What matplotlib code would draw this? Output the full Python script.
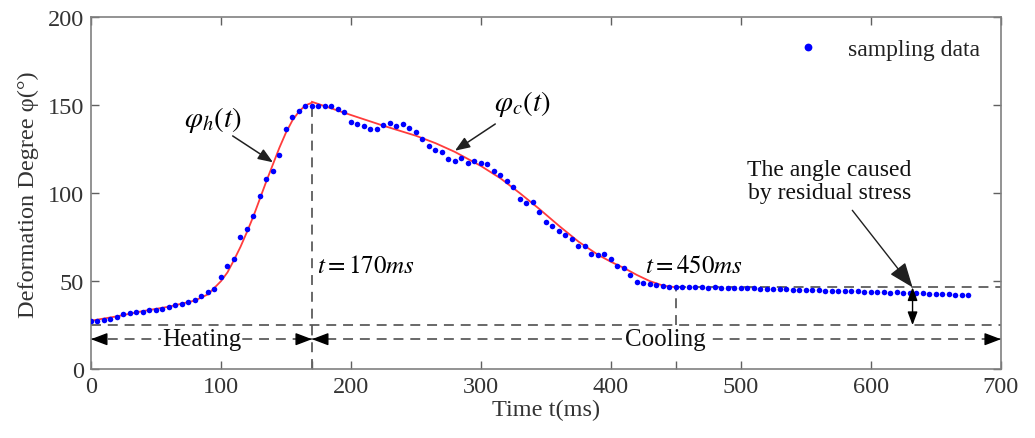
#!/usr/bin/env python3
"""Deformation degree vs time: sampled data with heating/cooling fit curves."""

import numpy as np
import matplotlib
matplotlib.use("Agg")
import matplotlib.pyplot as plt

plt.rcParams["font.family"] = ["Liberation Serif", "DejaVu Serif"]
plt.rcParams["mathtext.fontset"] = "stix"

# Sampled data, one point every 5 ms
t_samp = np.arange(0, 680, 5)
phi_samp = [
    27.5, 27.5, 27.9, 28.4, 29.8, 31.1, 31.9, 32.3, 32.3, 33.6,
    33.7, 34.1, 35.1, 36.4, 36.8, 37.9, 39.2, 41.7, 43.6, 45.5,
    52.2, 58.8, 62.6, 74.9, 79.6, 87.2, 98.6, 108.1, 112.8, 121.7,
    136.5, 143.2, 146.9, 149.8, 149.8, 149.9, 149.9, 149.9, 147.9, 146.0,
    140.8, 139.4, 138.1, 136.5, 136.5, 138.8, 139.9, 138.4, 139.4, 136.9,
    134.6, 130.8, 126.7, 124.6, 123.6, 119.5, 118.5, 119.9, 117.0, 118.5,
    117.0, 116.6, 112.8, 110.4, 106.8, 103.4, 96.7, 94.3, 94.8, 89.5,
    83.8, 81.5, 78.7, 76.2, 73.9, 69.8, 70.1, 65.4, 64.8, 65.4,
    62.6, 58.8, 57.5, 53.6, 49.7, 48.9, 48.4, 47.8, 47.2, 46.8,
    46.6, 46.5, 46.6, 46.4, 46.5, 46.3, 46.4, 46.2, 46.3, 46.0,
    46.1, 45.9, 45.9, 45.7, 45.8, 45.5, 45.6, 45.3, 45.2, 45.0,
    45.1, 44.8, 44.9, 44.6, 44.5, 44.6, 44.3, 44.2, 44.2, 44.0,
    43.9, 43.7, 43.8, 43.5, 43.6, 43.3, 43.4, 43.1, 43.0, 42.8,
    42.9, 42.6, 42.5, 42.3, 42.2, 42.0,
]

# Fitted heating curve phi_h(t)
t_heat = [0, 20, 40, 60, 80, 90, 100, 105, 110, 115, 120, 125, 130, 135,
          140, 145, 150, 155, 160, 165, 170]
phi_heat = [27.5, 30.0, 33.0, 35.5, 39.0, 42.5, 50.0, 55.0, 62.0, 69.5, 78.0,
            87.0, 97.0, 107.0, 116.5, 126.0, 134.5, 141.5, 146.5, 150.0, 151.5]

# Fitted cooling curve phi_c(t)
t_cool = [170, 180, 200, 225, 250, 265, 280, 295, 300, 315, 330, 345, 360,
          375, 390, 400, 410, 420, 430, 440, 450]
phi_cool = [152.0, 149.5, 144.5, 138.4, 132.7, 128.5, 123.5, 117.5, 115.5,
            108.5, 100.0, 91.0, 81.5, 72.5, 65.0, 61.0, 57.5, 53.5, 50.0,
            47.5, 46.5]

t_heat_end = 170
t_cool_end = 450
phi_final = 46.5
phi_base = 25.0
arrow_y = 17.0
t_residual = 632

fig = plt.figure(figsize=(10.35, 4.39), dpi=100)
ax = fig.add_axes([0.0879, 0.157, 0.8792, 0.801])

ax.plot(t_heat, phi_heat, color="#ff3c3c", lw=1.3, zorder=2)
ax.plot(t_cool, phi_cool, color="#ff3c3c", lw=1.3, zorder=2)
ax.plot(t_samp, phi_samp, "o", color="#0000ff", ms=4.0, mec="none",
        zorder=3, label="sampling data")

dash = dict(color="#404040", lw=1.1, ls=(0, (6.5, 4.5)), zorder=1)
ax.plot([t_heat_end, t_heat_end], [0, phi_heat[-1]], **dash)
ax.plot([t_cool_end, t_cool_end], [phi_base, phi_final], **dash)
ax.plot([0, 700], [phi_base, phi_base], **dash)
ax.plot([t_cool_end, 700], [phi_final, phi_final], **dash)
ax.plot([0, 700], [arrow_y, arrow_y], **dash)

head = dict(arrowstyle="-|>,head_length=1.0,head_width=0.38", color="black",
            lw=1.0, shrinkA=0, shrinkB=0)
for tip, tail in [(0, 8), (t_heat_end, t_heat_end - 8),
                  (t_heat_end, t_heat_end + 8), (700, 692)]:
    ax.annotate("", xy=(tip, arrow_y), xytext=(tail, arrow_y), arrowprops=head)

ax.text(85, arrow_y, "Heating", ha="center", va="center", fontsize=18,
        color="#111111", bbox=dict(fc="white", ec="none", pad=0.5))
ax.text(442, arrow_y, "Cooling", ha="center", va="center", fontsize=18,
        color="#111111", bbox=dict(fc="white", ec="none", pad=0.5))

# residual stress double arrow
ax.annotate("", xy=(t_residual, phi_base), xytext=(t_residual, phi_final),
            arrowprops=dict(arrowstyle="<|-|>,head_length=0.8,head_width=0.3",
                            color="black", lw=1.0, shrinkA=0, shrinkB=0))
ax.annotate("The angle caused\nby residual stress", xy=(t_residual, phi_final),
            xytext=(568, 107), ha="center", va="center", fontsize=17,
            linespacing=1.15, color="#111111",
            arrowprops=dict(arrowstyle="-|>,head_length=0.9,head_width=0.35",
                            color="#202020", lw=1.0, shrinkA=4, shrinkB=0))

arr = dict(arrowstyle="-|>,head_length=0.9,head_width=0.35", color="#202020",
           lw=1.1, shrinkA=0, shrinkB=0)
ax.text(94, 142, r"$\varphi_h(t)$", ha="center", va="center", fontsize=21)
ax.annotate("", xy=(140, 117.6), xytext=(109, 132.6), arrowprops=arr)
ax.text(332, 151.5, r"$\varphi_c(t)$", ha="center", va="center", fontsize=21)
ax.annotate("", xy=(280, 124.2), xytext=(311, 139.4), arrowprops=arr)

ax.text(174, 58.6, r"$t=170ms$", ha="left", va="center", fontsize=18)
ax.text(426, 58.8, r"$t=450ms$", ha="left", va="center", fontsize=18)

ax.set_xlim(0, 700)
ax.set_ylim(0, 200)
ax.set_xticks(range(0, 701, 100))
ax.set_yticks(range(0, 201, 50))
ax.set_xticks([t_heat_end, t_cool_end], minor=True)
ax.tick_params(which="both", direction="in", top=True, right=True, length=6,
               width=1.0, color="#606060", labelsize=17.5, labelcolor="#333333",
               pad=5)
ax.tick_params(which="minor", top=False)
for sp in ax.spines.values():
    sp.set_color("#808080")
    sp.set_linewidth(1.2)

ax.set_xlabel("Time t(ms)", fontsize=17.5, color="#333333", labelpad=1)
ax.set_ylabel("Deformation Degree φ(°)", fontsize=17.5, color="#333333",
              labelpad=6)

leg = ax.legend(loc="upper right", frameon=False, fontsize=17, markerscale=1.4,
                handletextpad=1.2, handlelength=1.0, borderaxespad=0.5)
for txt in leg.get_texts():
    txt.set_color("#222222")

fig.savefig("out.png", dpi=100)
